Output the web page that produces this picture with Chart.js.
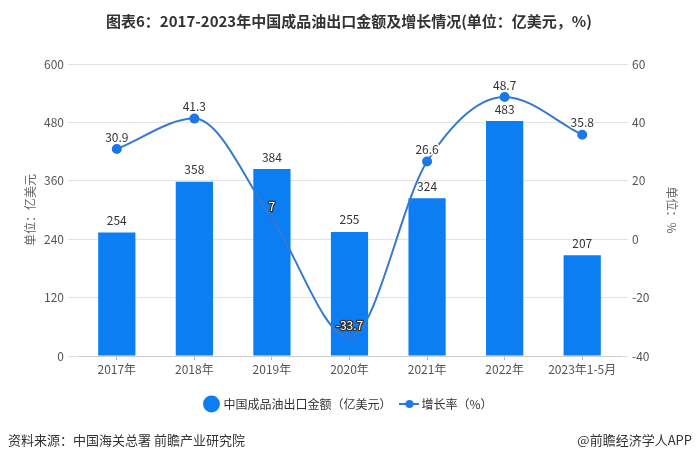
<!DOCTYPE html>
<html>
<head>
<meta charset="utf-8">
<script src="https://cdn.jsdelivr.net/npm/chart.js@4/dist/chart.umd.min.js"></script>
<style>
  html, body { margin: 0; padding: 0; background: #fff; }
  body { width: 698px; height: 460px; position: relative; overflow: hidden;
         font-family: "Noto Sans CJK SC", "Noto Sans", sans-serif; }
  #title { position: absolute; left: 0; top: 10px; width: 698px; text-align: center;
           font-size: 15px; font-weight: bold; color: #333; }
  #source { position: absolute; left: 8px; top: 430px; font-size: 13px; color: #333; }
  #brand { position: absolute; right: 6px; top: 430px; font-size: 13px; color: #333; }
  #wrap { position: absolute; left: 0; top: 0; width: 698px; height: 460px; }
</style>
</head>
<body>
<div id="wrap"><canvas id="chart" width="698" height="460"></canvas></div>
<div id="title">图表6：2017-2023年中国成品油出口金额及增长情况(单位：亿美元，%)</div>
<div id="source">资料来源：中国海关总署 前瞻产业研究院</div>
<div id="brand">@前瞻经济学人APP</div>
<script>
const years = ["2017年", "2018年", "2019年", "2020年", "2021年", "2022年", "2023年1-5月"];
const exportValue = [254, 358, 384, 255, 324, 483, 207];
const growthRate = [30.9, 41.3, 7, -33.7, 26.6, 48.7, 35.8];
const leftTicks = [0, 120, 240, 360, 480, 600];
const rightTicks = [-40, -20, 0, 20, 40, 60];

const FONT = '"Noto Sans CJK SC", "Noto Sans", sans-serif';
const BAR_COLOR = "#0b7ef3";
const LINE_COLOR = "#3679cf";
const POINT_COLOR = "#1d77e6";

// legend marker for the line series: short line with a dot
const lineMarker = document.createElement("canvas");
lineMarker.width = 20; lineMarker.height = 10;
(() => {
  const c = lineMarker.getContext("2d");
  c.strokeStyle = LINE_COLOR; c.lineWidth = 2;
  c.beginPath(); c.moveTo(0, 5); c.lineTo(20, 5); c.stroke();
  c.fillStyle = POINT_COLOR;
  c.beginPath(); c.arc(10, 5, 4, 0, Math.PI * 2); c.fill();
})();

const valueLabels = {
  id: "valueLabels",
  afterDatasetsDraw(chart) {
    const ctx = chart.ctx;
    const barMeta = chart.getDatasetMeta(0);
    const lineMeta = chart.getDatasetMeta(1);
    ctx.save();
    ctx.font = "12px " + FONT;
    ctx.textAlign = "center";
    ctx.textBaseline = "middle";
    barMeta.data.forEach((bar, i) => {
      ctx.fillStyle = "#333";
      ctx.fillText(exportValue[i], bar.x, bar.y - 12);
    });
    lineMeta.data.forEach((pt, i) => {
      const insideBar = pt.y > barMeta.data[i].y;
      const ly = pt.y - 12;
      ctx.lineJoin = "round";
      if (insideBar) {
        ctx.strokeStyle = "#333"; ctx.lineWidth = 2.5;
        ctx.strokeText(growthRate[i], pt.x, ly);
        ctx.fillStyle = "#fff";
      } else {
        ctx.strokeStyle = "#fff"; ctx.lineWidth = 3;
        ctx.strokeText(growthRate[i], pt.x, ly);
        ctx.fillStyle = "#333";
      }
      ctx.fillText(growthRate[i], pt.x, ly);
    });
    ctx.restore();
  }
};

new Chart(document.getElementById("chart"), {
  data: {
    labels: years,
    datasets: [
      { type: "bar", label: "中国成品油出口金额（亿美元）", data: exportValue, yAxisID: "y",
        backgroundColor: BAR_COLOR, barPercentage: 0.48, categoryPercentage: 1, order: 1 },
      { type: "line", label: "增长率（%）", data: growthRate, yAxisID: "y1",
        borderColor: LINE_COLOR, borderWidth: 2, cubicInterpolationMode: "monotone",
        pointRadius: 4, pointBackgroundColor: POINT_COLOR, pointBorderColor: POINT_COLOR, order: 0 },
    ],
  },
  options: {
    responsive: false,
    animation: false,
    layout: { padding: { top: 64, bottom: 40, left: 0, right: 0 } },
    plugins: {
      tooltip: { enabled: false },
      legend: {
        position: "bottom",
        labels: {
          font: { family: FONT, size: 12 },
          color: "#333",
          usePointStyle: true,
          padding: 12,
          generateLabels: () => [
            { text: "中国成品油出口金额（亿美元）", pointStyle: "circle", fillStyle: BAR_COLOR,
              strokeStyle: BAR_COLOR, lineWidth: 0, datasetIndex: 0, fontColor: "#333" },
            { text: "增长率（%）", pointStyle: lineMarker, fillStyle: POINT_COLOR,
              strokeStyle: POINT_COLOR, lineWidth: 0, datasetIndex: 1, fontColor: "#333" },
          ],
        },
      },
    },
    scales: {
      x: {
        grid: { display: true, drawOnChartArea: false, offset: false, tickLength: 4, tickColor: "#bbb" },
        border: { color: "#ccc" },
        ticks: { font: { family: FONT, size: 12 }, color: "#555", maxRotation: 0, padding: 2 },
        afterFit: (s) => { s.height = 30; },
      },
      y: {
        position: "left", min: 0, max: 600,
        afterBuildTicks: (s) => { s.ticks = leftTicks.map((v) => ({ value: v })); },
        grid: { color: "#e3e3e3", tickLength: 10, tickColor: "#e3e3e3" },
        border: { display: false },
        ticks: { font: { family: FONT, size: 12 }, color: "#555", padding: 4 },
        title: { display: true, text: "单位：亿美元", color: "#666", font: { family: FONT, size: 12 },
                 padding: { top: 23, bottom: 0 } },
        afterFit: (s) => { s.width = 78; },
      },
      y1: {
        position: "right", min: -40, max: 60,
        afterBuildTicks: (s) => { s.ticks = rightTicks.map((v) => ({ value: v })); },
        grid: { drawOnChartArea: false, tickLength: 7, tickColor: "#e3e3e3" },
        border: { display: false },
        ticks: { font: { family: FONT, size: 12 }, color: "#555", padding: 4 },
        title: { display: true, text: "单位：%", color: "#666", font: { family: FONT, size: 12 },
                 padding: { top: 19, bottom: 0 } },
        afterFit: (s) => { s.width = 77; },
      },
    },
  },
  plugins: [valueLabels],
});
</script>
</body>
</html>
